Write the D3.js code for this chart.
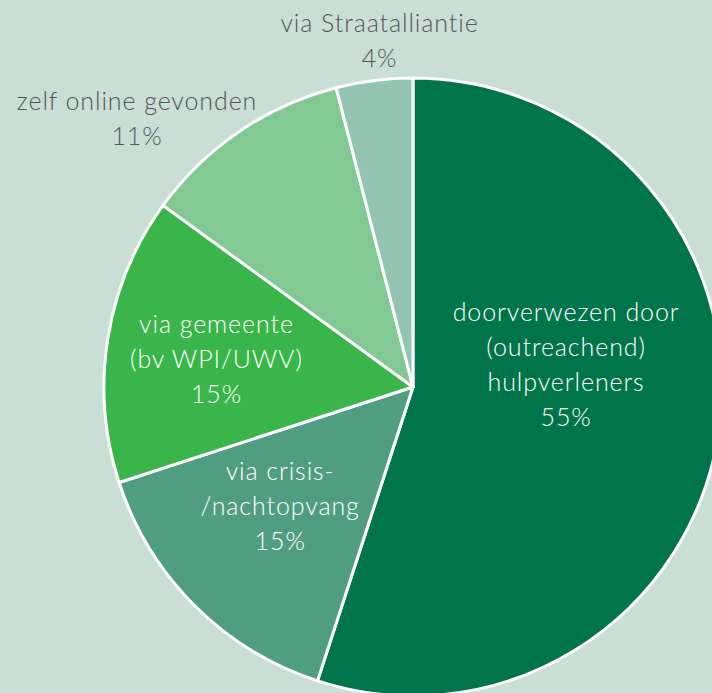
<!doctype html>
<html>
<head>
<meta charset="utf-8">
<script src="https://cdn.jsdelivr.net/npm/d3@7"></script>
<style>
  html, body { margin: 0; padding: 0; background: #c9dfd6; }
  svg { display: block; }
  text { font-family: Lato, "Open Sans", sans-serif; font-weight: 300; letter-spacing: 0.9px; }
</style>
</head>
<body>
<script>
const width = 712, height = 693;

// data
const labels = [
  ["doorverwezen door", "(outreachend)", "hulpverleners"],
  ["via crisis-", "/nachtopvang"],
  ["via gemeente", "(bv WPI/UWV)"],
  ["zelf online gevonden"],
  ["via Straatalliantie"]
];
const values = [55, 15, 15, 11, 4];
const colors = ["#00754a", "#509e81", "#3ab54a", "#82c893", "#93c3b1"];

// label layout: radius along slice middle, then a small nudge
const labelRadius = [155, 185, 198, 379, 339];
const labelNudge = [[0, -38], [-2, -3], [-1, 12], [-63, 54], [9, -1]];
const labelInside = [true, true, true, false, false];

const cx = 413, cy = 387, r = 309;
const lineH = 35;

const svg = d3.select("body").append("svg")
    .attr("width", width)
    .attr("height", height);

const g = svg.append("g").attr("transform", `translate(${cx},${cy})`);

const pie = d3.pie().sort(null).value((d) => d)(values);
const arc = d3.arc().innerRadius(0).outerRadius(r);

g.selectAll("path")
  .data(pie)
  .join("path")
    .attr("d", arc)
    .attr("fill", (d, i) => colors[i])
    .attr("stroke", "#fff")
    .attr("stroke-width", 3)
    .attr("stroke-linejoin", "round");

g.selectAll("text.lbl")
  .data(pie)
  .join("text")
    .attr("class", "lbl")
    .attr("text-anchor", "middle")
    .attr("font-size", 25)
    .attr("fill", (d, i) => labelInside[i] ? "#fff" : "#555")
    .each(function(d, i) {
      const la = d3.arc().innerRadius(labelRadius[i]).outerRadius(labelRadius[i]);
      const [x, y] = la.centroid(d);
      const lines = labels[i].concat([d3.format(".0f")(d.value) + "%"]);
      const x0 = x + labelNudge[i][0];
      const y0 = y + labelNudge[i][1] - (lines.length - 1) * lineH / 2;
      d3.select(this).selectAll("tspan")
        .data(lines)
        .join("tspan")
          .attr("x", x0)
          .attr("y", (t, j) => y0 + j * lineH)
          .text((t) => t);
    });
</script>
</body>
</html>
